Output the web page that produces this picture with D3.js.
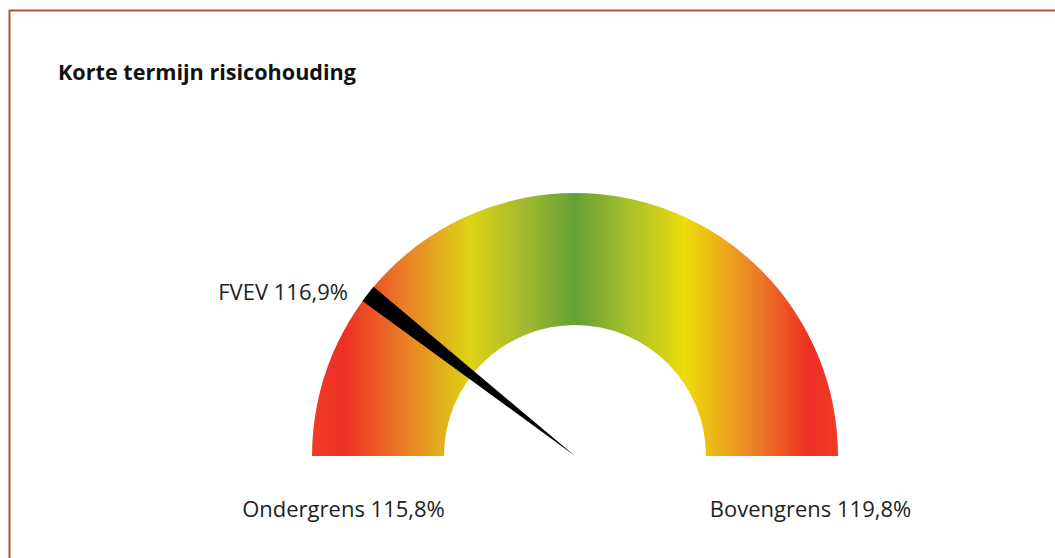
<!DOCTYPE html>
<html><head><meta charset="utf-8">
<script src="https://cdn.jsdelivr.net/npm/d3@7"></script>
<style>html,body{margin:0;padding:0;background:#fff;}svg{display:block;}</style>
</head><body>
<svg id="chart" width="1055" height="558"></svg>
<script>
const title = "Korte termijn risicohouding";
const gaugeDomain = [115.8, 121.0];
const currentValue = 116.9;
const currentLabel = "FVEV 116,9%";
const lowerLabel = "Ondergrens 115,8%";
const upperLabel = "Bovengrens 119,8%";
const gradientOffsets = [0, 0.06, 0.17, 0.30, 0.40, 0.50, 0.60, 0.71, 0.83, 0.945, 1];
const gradientColors = ["#ee3d26", "#ee2e24", "#ea7a27", "#ddd414", "#a6ba2d", "#64a036", "#a8bf2b", "#ecdc0a", "#ec8927", "#ee2e24", "#ee3d26"];

const svg = d3.select("#chart");
const cx = 575, cy = 456, R = 263, r = 131;

// border
svg.append("path").attr("d", "M9.5,558 L9.5,10.5 L1055,10.5")
  .attr("fill", "none").attr("stroke", "#a8553f").attr("stroke-width", 2);

svg.append("text").attr("x", 58).attr("y", 80).text(title)
  .attr("font-family", "'Open Sans', sans-serif").attr("font-weight", "bold")
  .attr("font-size", 21.6).attr("fill", "#111");

const defs = svg.append("defs");
const grad = defs.append("linearGradient").attr("id", "g")
  .attr("gradientUnits", "userSpaceOnUse")
  .attr("x1", -R).attr("x2", R).attr("y1", 0).attr("y2", 0);
grad.selectAll("stop").data(gradientOffsets).join("stop")
  .attr("offset", d => d).attr("stop-color", (d, i) => gradientColors[i]);

const angle = d3.scaleLinear().domain(gaugeDomain).range([-Math.PI / 2, Math.PI / 2]);
const g = svg.append("g").attr("transform", `translate(${cx},${cy})`);
const arc = d3.arc().innerRadius(r).outerRadius(R)
  .startAngle(angle(gaugeDomain[0])).endAngle(angle(gaugeDomain[1]));
g.append("path").attr("d", arc()).attr("fill", "url(#g)");

// needle
const a = angle(currentValue);
const halfW = 9;
const dx = Math.sin(a), dy = -Math.cos(a);
const px = -dy, py = dx;
const bx = dx * R, by = dy * R;
const needle = [[0, 0], [bx + px * halfW, by + py * halfW], [bx - px * halfW, by - py * halfW]];
g.append("path").attr("d", d3.line()(needle)).attr("fill", "#000");

function txt(x, y, s, anchor) {
  return svg.append("text").attr("x", x).attr("y", y).attr("text-anchor", anchor).text(s)
    .attr("font-family", "'Open Sans', sans-serif").attr("font-size", 22).attr("fill", "#222");
}
txt(348, 300, currentLabel, "end");
txt(343.5, 517, lowerLabel, "middle");
txt(810.5, 517, upperLabel, "middle");
</script>
</body></html>
